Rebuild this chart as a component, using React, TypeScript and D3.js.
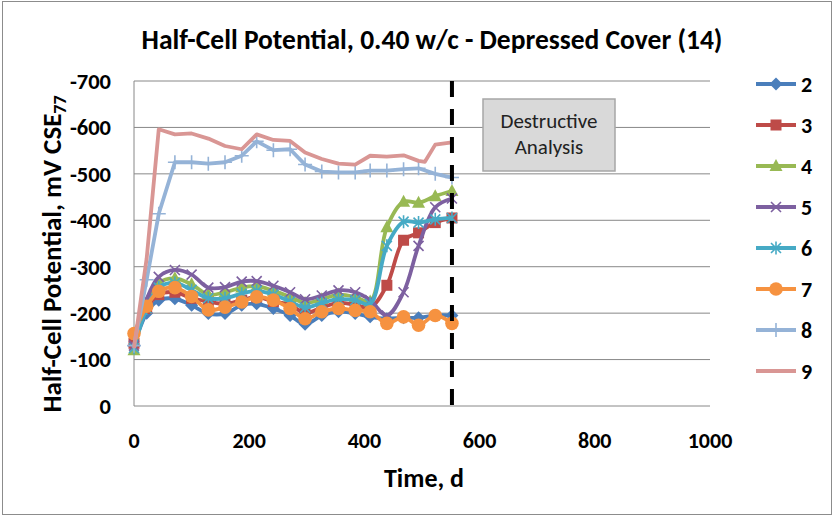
import React from 'react';
import * as d3 from 'd3';

// ---- data ----
const days = [0, 22, 43, 71, 100, 129, 158, 187, 213, 242, 271, 297, 326, 355, 384, 410, 439, 468, 494, 523, 552];
const days9 = [0, 22, 43, 71, 100, 129, 158, 187, 213, 242, 271, 297, 326, 355, 384, 410, 439, 468, 494, 505, 523, 552];

const s2 = [-130, -200, -228, -231, -217, -199, -199, -217, -220, -210, -195, -176, -195, -203, -199, -192, -188, -190, -190, -195, -195];
const s3 = [-135, -210, -240, -245, -232, -225, -220, -228, -235, -225, -218, -200, -212, -222, -218, -212, -260, -357, -373, -395, -405];
const s4 = [-120, -220, -265, -275, -262, -240, -245, -255, -258, -248, -235, -222, -230, -240, -235, -225, -385, -440, -438, -452, -463];
const s5 = [-130, -230, -278, -293, -283, -255, -256, -268, -269, -259, -245, -230, -238, -249, -245, -228, -195, -245, -345, -428, -447];
const s6 = [-125, -210, -255, -265, -250, -232, -232, -242, -248, -240, -225, -212, -222, -230, -228, -220, -345, -397, -395, -402, -405];
const s7 = [-156, -215, -247, -255, -236, -207, -213, -224, -235, -228, -210, -188, -203, -210, -206, -203, -178, -192, -174, -195, -178];
const s8 = [-130, -272, -414, -525, -525, -522, -525, -539, -570, -551, -553, -520, -505, -503, -503, -507, -507, -510, -512, -500, -492];
const s9 = [-125, -318, -596, -585, -587, -576, -560, -553, -585, -573, -571, -546, -532, -522, -520, -539, -537, -540, -528, -526, -563, -568];

const seriesNames = ['2', '3', '4', '5', '6', '7', '8', '9'];
const xTicks = [0, 200, 400, 600, 800, 1000];
const yTicks = [0, -100, -200, -300, -400, -500, -600, -700];
const destructiveDay = 552;

const titleText = 'Half-Cell Potential, 0.40 w/c - Depressed Cover (14)';
const xTitle = 'Time, d';
const yTitle = 'Half-Cell Potential, mV CSE';
const ySub = '77';
const boxLines = ['Destructive', 'Analysis'];

// ---- style ----
const colors = ['#4A7EBB', '#BE4B48', '#98B954', '#7D60A0', '#46AAC5', '#F69240', '#95B3D7', '#D99694'];
const markers = ['diamond', 'square', 'triangle', 'x', 'asterisk', 'circle', 'plus', 'none'];
const smooth = [true, true, true, true, true, true, false, false];
const FONT = 'Carlito, Calibri, Lato, sans-serif';

function Marker({ type, color, cx, cy }: { type: string; color: string; cx: number; cy: number }) {
  const t = `translate(${cx},${cy})`;
  switch (type) {
    case 'diamond':
      return <path transform={t} d="M0,-6.5L6.5,0L0,6.5L-6.5,0Z" fill={color} />;
    case 'square':
      return <rect transform={t} x={-5.5} y={-5.5} width={11} height={11} fill={color} />;
    case 'triangle':
      return <path transform={t} d="M0,-7L6.5,5L-6.5,5Z" fill={color} />;
    case 'x':
      return <path transform={t} d="M-5,-5L5,5M-5,5L5,-5" stroke={color} strokeWidth={1.6} fill="none" />;
    case 'asterisk':
      return <path transform={t} d="M-5,-5L5,5M-5,5L5,-5M0,-6.5L0,6.5" stroke={color} strokeWidth={1.6} fill="none" />;
    case 'circle':
      return <circle cx={cx} cy={cy} r={6.8} fill={color} />;
    case 'plus':
      return <path transform={t} d="M0,-7L0,7M-7,0L7,0" stroke={color} strokeWidth={1.6} fill="none" />;
    default:
      return null;
  }
}

export default function App() {
  const W = 834, H = 517;
  const x = d3.scaleLinear().domain([0, 1000]).range([134, 710]);
  const y = d3.scaleLinear().domain([0, -700]).range([406, 81]);

  const allValues = [s2, s3, s4, s5, s6, s7, s8, s9];
  const allDays = [days, days, days, days, days, days, days, days9];

  const series = allValues.map((vals, i) => ({
    name: seriesNames[i],
    color: colors[i],
    marker: markers[i],
    smooth: smooth[i],
    pts: vals.map((v, j) => [allDays[i][j], v] as [number, number]),
  }));

  const lineSmooth = d3.line<[number, number]>().x(d => x(d[0])).y(d => y(d[1])).curve(d3.curveCatmullRom.alpha(0.5));
  const lineStraight = d3.line<[number, number]>().x(d => x(d[0])).y(d => y(d[1]));

  const [x0, x1] = x.range();
  const legendX0 = 756, legendX1 = 796;
  const legendY = (i: number) => 84 + i * 41;

  return (
    <svg width={W} height={H} style={{ position: 'absolute', left: 0, top: 0, background: '#fff' }} fontFamily={FONT}>
      <rect x={2.5} y={1.5} width={829} height={513} fill="#fff" stroke="#8c8c8c" strokeWidth={1} />
      <text x={432} y={49} textAnchor="middle" fontSize={27.5} fontWeight="bold" fill="#000">{titleText}</text>

      {/* gridlines */}
      {yTicks.map(t => (
        <line key={t} x1={x0} x2={x1} y1={y(t)} y2={y(t)} stroke="#888" strokeWidth={1} />
      ))}
      <line x1={x0} x2={x0} y1={y(-700)} y2={y(0)} stroke="#888" strokeWidth={1} />

      {/* tick labels */}
      {yTicks.map(t => (
        <text key={t} x={111} y={y(t)} dy="0.35em" textAnchor="end" fontSize={22.5} fontWeight="bold">{t === 0 ? '0' : String(t)}</text>
      ))}
      {xTicks.map(t => (
        <text key={t} x={x(t)} y={440} dy="0.35em" textAnchor="middle" fontSize={22} fontWeight="bold">{String(t)}</text>
      ))}

      {/* axis titles */}
      <text x={424} y={487} textAnchor="middle" fontSize={26} fontWeight="bold">{xTitle}</text>
      <text transform="translate(61,254) rotate(-90)" textAnchor="middle" fontSize={27} fontWeight="bold">
        {yTitle}<tspan dy={5} fontSize={18}>{ySub}</tspan>
      </text>

      {/* series */}
      {series.map(s => (
        <g key={s.name}>
          <path d={(s.smooth ? lineSmooth : lineStraight)(s.pts) || ''} fill="none" stroke={s.color} strokeWidth={3.8} strokeLinejoin="round" />
          {s.pts.map((p, j) => (
            <Marker key={j} type={s.marker} color={s.color} cx={x(p[0])} cy={y(p[1])} />
          ))}
        </g>
      ))}

      {/* destructive analysis line */}
      <line x1={x(destructiveDay)} x2={x(destructiveDay)} y1={y(-700)} y2={y(0) + 2} stroke="#000" strokeWidth={4} strokeDasharray="16,12" />
      <rect x={483} y={99} width={132} height={72} fill="#D9D9D9" stroke="#A6A6A6" strokeWidth={1.5} />
      {boxLines.map((l, i) => (
        <text key={l} x={549} y={128 + i * 26} textAnchor="middle" fontSize={21} fill="#222">{l}</text>
      ))}

      {/* legend */}
      {series.map((s, i) => (
        <g key={s.name}>
          <line x1={legendX0} x2={legendX1} y1={legendY(i)} y2={legendY(i)} stroke={s.color} strokeWidth={3.8} />
          <Marker type={s.marker} color={s.color} cx={(legendX0 + legendX1) / 2} cy={legendY(i)} />
          <text x={801} y={legendY(i)} dy="0.35em" fontSize={22} fontWeight="bold">{s.name}</text>
        </g>
      ))}
    </svg>
  );
}
